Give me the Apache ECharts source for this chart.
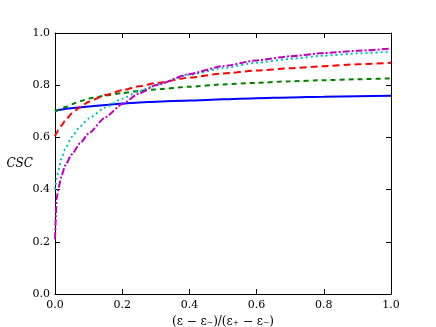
<!DOCTYPE html>
<html>
<head>
<meta charset="utf-8">
<script src="https://cdn.jsdelivr.net/npm/echarts@6/dist/echarts.min.js"></script>
<style>
  html, body { margin: 0; padding: 0; background: #fff; }
  #chart { width: 436px; height: 327px; }
</style>
</head>
<body>
<div id="chart"></div>
<script>
// x positions (normalised strain) shared by all curves
const xs = [0, 0.005, 0.01, 0.02, 0.03, 0.05, 0.075, 0.1, 0.15, 0.2, 0.25, 0.3, 0.4, 0.5, 0.6, 0.7, 0.8, 0.9, 1.0]

// CSC values
const blueSolid = [0.700, 0.703, 0.705, 0.707, 0.709, 0.712, 0.715, 0.718, 0.724, 0.730, 0.734, 0.737, 0.741, 0.746, 0.750, 0.753, 0.756, 0.758, 0.760]
const greenDashed = [0.700, 0.703, 0.706, 0.711, 0.716, 0.727, 0.739, 0.749, 0.760, 0.770, 0.778, 0.784, 0.794, 0.803, 0.809, 0.815, 0.819, 0.823, 0.826]
const redDashed = [0.605, 0.617, 0.628, 0.647, 0.664, 0.692, 0.716, 0.737, 0.762, 0.781, 0.796, 0.808, 0.829, 0.845, 0.856, 0.865, 0.873, 0.880, 0.886]
const cyanDotted = [0.400, 0.443, 0.475, 0.522, 0.555, 0.602, 0.642, 0.672, 0.715, 0.748, 0.777, 0.801, 0.840, 0.866, 0.886, 0.901, 0.913, 0.922, 0.929]
const magentaDashDot = [0.210, 0.365, 0.405, 0.455, 0.492, 0.535, 0.578, 0.615, 0.677, 0.728, 0.768, 0.800, 0.843, 0.873, 0.895, 0.911, 0.923, 0.932, 0.940]

const tickLabels = ['0.0', '0.2', '0.4', '0.6', '0.8', '1.0']

const serif = 'DejaVu Serif'

function pairs (ys) {
  return xs.map((x, i) => [x, ys[i]])
}

function curve (ys, color, type) {
  return {
    type: 'line',
    data: pairs(ys),
    showSymbol: false,
    symbol: 'none',
    smooth: 0.2,
    smoothMonotone: 'x',
    animation: false,
    lineStyle: { color: color, width: 2, type: type }
  }
}

let dom = echarts.init(document.getElementById('chart'))
let fmt = v => tickLabels[Math.round(v * 5)]
let frameLine = { show: true, onZero: false, lineStyle: { color: '#000', width: 1 } }
let inTick = { show: true, inside: true, length: 5, lineStyle: { color: '#000' } }

let option = {
  backgroundColor: '#fff',
  grid: { left: 55, right: 45, top: 33, bottom: 33, containLabel: false, outerBoundsMode: 'none' },
  xAxis: [{
    type: 'value', min: 0, max: 1, interval: 0.2,
    name: '(ε − ε₋)/(ε₊ − ε₋)',
    nameLocation: 'middle', nameGap: 20,
    nameTextStyle: { fontFamily: serif, fontSize: 12, color: '#000' },
    axisLine: frameLine, axisTick: inTick,
    axisLabel: { formatter: fmt, fontFamily: serif, fontSize: 11, color: '#000', margin: 6 },
    splitLine: { show: false }
  }, {
    type: 'value', min: 0, max: 1, interval: 0.2, position: 'top',
    axisLine: frameLine, axisTick: inTick, axisLabel: { show: false }, splitLine: { show: false }
  }],
  yAxis: [{
    type: 'value', min: 0, max: 1, interval: 0.2,
    name: 'CSC', nameLocation: 'middle', nameRotate: 0, nameGap: 22,
    nameMoveOverlap: false,
    nameTextStyle: { fontFamily: serif, fontStyle: 'italic', fontSize: 12, color: '#000' },
    axisLine: frameLine, axisTick: inTick,
    axisLabel: { formatter: fmt, fontFamily: serif, fontSize: 11, color: '#000', margin: 5 },
    splitLine: { show: false }
  }, {
    type: 'value', min: 0, max: 1, interval: 0.2, position: 'right',
    axisLine: frameLine, axisTick: inTick, axisLabel: { show: false }, splitLine: { show: false }
  }],
  series: [
    curve(blueSolid, '#0000ff', 'solid'),
    curve(greenDashed, '#008000', [5, 4]),
    curve(redDashed, '#ff0000', [7, 4]),
    curve(cyanDotted, '#00bfbf', [2, 3]),
    curve(magentaDashDot, '#bf00bf', [7, 2, 2, 2])
  ]
}

dom.setOption(option)
</script>
</body>
</html>
